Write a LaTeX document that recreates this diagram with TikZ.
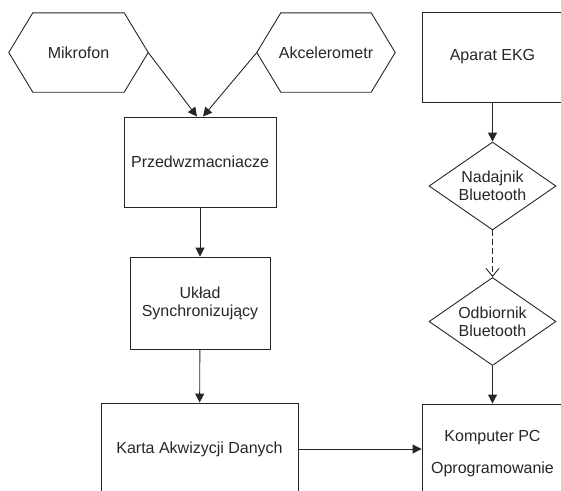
\documentclass[tikz,border=0pt]{standalone}
\usepackage{fontspec}
\setmainfont{Liberation Sans}
\usepackage{tikz}
\usetikzlibrary{arrows.meta,shapes.geometric,positioning}
\tikzset{
    blok/.style={
           rectangle,
           draw=black!85, line width=0.9pt,
           inner sep=2pt,
           align=center,
           text=black!85,
           font=\fontsize{16}{18}\selectfont,
           },
    hexa/.style={
           rectangle,
           inner sep=0pt,
           minimum height=79pt,
           text=black!85,
           font=\fontsize{16}{18}\selectfont,
           },
    linia/.style={
           draw=black!85, line width=0.9pt,},
    romb/.style={
           diamond, aspect=1.44,
           draw=black!85, line width=0.9pt,
           inner sep=0pt,
           minimum width=127pt, minimum height=88pt,
           align=center,
           text=black!85,
           font=\fontsize{16}{18}\selectfont,
           },
    pil/.style={
           -{Triangle[width=9pt,length=9pt]},
           draw=black!85, line width=0.9pt,},
    pilbt/.style={
           -{Straight Barb[width=13pt,length=8pt]},
           draw=black!85, line width=0.9pt,
           dash pattern=on 6pt off 3pt,}
}
\begin{document}
\begin{tikzpicture}[x=1pt,y=-1pt]
\useasboundingbox (0,0) rectangle (561,490);
\clip (0,0) rectangle (561,490);
% SENSORS
% Position of Mikrofon (MIK)
\node[hexa, minimum width=139pt] (MIK) at (78.5,52.5) {Mikrofon};
% Position of Akcelerometr (AKC)
\node[hexa, minimum width=138pt] (AKC) at (326,52.5) {Akcelerometr};
% Hexagon outlines
\foreach \n in {MIK,AKC}
  \draw[linia] (\n.west) -- ([xshift=24pt]\n.north west) -- ([xshift=-24pt]\n.north east)
    -- (\n.east) -- ([xshift=-24pt]\n.south east) -- ([xshift=24pt]\n.south west) -- cycle;
% Position of Przedwzmacniacze (PRZ)
\node[blok, minimum width=152pt, minimum height=90pt] (PRZ) at (200,162) {Przedwzmacniacze};
% Position of Uklad Synchronizujacy (SYNC)
\node[blok, minimum width=140pt, minimum height=92pt] (SYNC) at (200,303) {Układ\\Synchronizujący};
% Position of Karta Akwizycji Danych (DAQ)
\node[blok, minimum width=197pt, minimum height=92pt] (DAQ) at (199.5,449) {Karta Akwizycji Danych};
% ECG BRANCH
% Position of Aparat EKG (EKG)
\node[blok, minimum width=141pt, minimum height=90pt] (EKG) at (492.5,57) {Aparat EKG};
% Position of Nadajnik Bluetooth (NAD)
\node[romb] (NAD) at (492.5,186) {Nadajnik\\Bluetooth};
% Position of Odbiornik Bluetooth (ODB)
\node[romb] (ODB) at (492.5,321.5) {Odbiornik\\Bluetooth};
% Position of Komputer PC (PC)
\node[blok, minimum width=141pt, minimum height=100pt] (PC) at (492.5,454) {Komputer PC\\[14pt]Oprogramowanie};
% Draw lines on graph
\draw[pil] (MIK.east) -- ([xshift=-3pt]PRZ.north);
\draw[pil] (AKC.west) -- ([xshift=3pt]PRZ.north);
\draw[pil] (PRZ) -- (SYNC);
\draw[pil] (SYNC) -- (DAQ);
\draw[pil] (DAQ.east) -- (DAQ.east -| PC.west);
\draw[pil] (EKG.south -| NAD.north) -- (NAD.north);
\draw[pilbt] (NAD.south) -- (ODB.north);
\draw[pil] (ODB.south) -- (ODB.south |- PC.north);
\end{tikzpicture}
\end{document}
